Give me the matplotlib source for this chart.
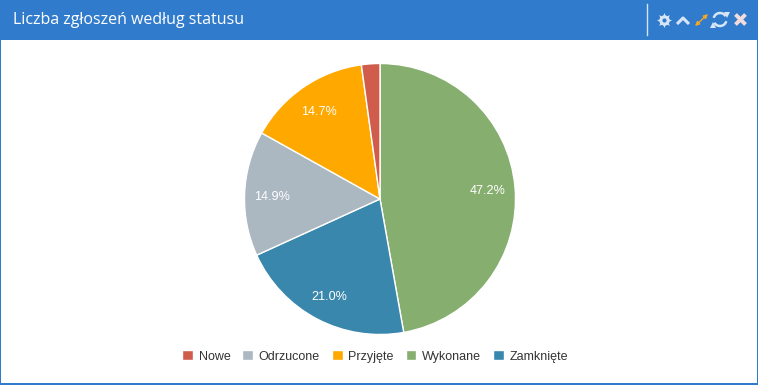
import matplotlib
matplotlib.use('Agg')
import matplotlib.pyplot as plt
from matplotlib.patches import Rectangle, Arc

W, H = 758, 385

title = 'Liczba zgłoszeń według statusu'
labels = ['Wykonane', 'Zamknięte', 'Odrzucone', 'Przyjęte', 'Nowe']
values = [47.2, 21.0, 14.9, 14.7, 2.2]
colors = ['#86ae6f', '#3a87ad', '#abb7c1', '#ffa800', '#d05c4c']
legend_order = ['Nowe', 'Odrzucone', 'Przyjęte', 'Wykonane', 'Zamknięte']
header_color = '#317bcc'
icon_color = '#d6e6f6'

plt.rcParams['font.family'] = ['Liberation Sans', 'DejaVu Sans']
fig = plt.figure(figsize=(W / 100, H / 100), dpi=100, facecolor='white')

# header bar and panel border, in pixel coordinates
bg = fig.add_axes([0, 0, 1, 1])
bg.set_xlim(0, W)
bg.set_ylim(H, 0)
bg.axis('off')
bg.add_patch(Rectangle((0, 0), W, 40, color=header_color, lw=0))
bg.add_patch(Rectangle((0, 40), 1, H - 40, color=header_color, lw=0))
bg.add_patch(Rectangle((W - 1, 40), 1, H - 40, color=header_color, lw=0))
bg.add_patch(Rectangle((0, H - 2), W, 2, color=header_color, lw=0))
bg.text(13, 20.5, title, color='white', fontsize=11.5, family='Open Sans', va='center', ha='left')
bg.plot([646.5, 646.5], [4, 35], color='#d5e4f5', lw=1)

# toolbar icons: gear
bg.plot(664, 20, marker=(8, 1, 0), ms=11, color=icon_color, mew=0)
bg.plot(664, 20, marker='o', ms=7.5, color=icon_color, mew=0)
bg.plot(664, 20, marker='o', ms=3, color=header_color, mew=0)
# collapse chevron
bg.plot([677, 683, 689], [24, 18, 24], color=icon_color, lw=2.2, solid_capstyle='butt')
# expand arrow
bg.annotate('', xy=(708, 14), xytext=(695, 26), arrowprops=dict(arrowstyle='<|-|>', color='#f5a623', lw=1, mutation_scale=6, shrinkA=0, shrinkB=0))
# refresh
bg.add_patch(Arc((720, 19.5), 13, 13, theta1=195, theta2=330, color=icon_color, lw=1.8))
bg.add_patch(Arc((720, 19.5), 13, 13, theta1=15, theta2=150, color=icon_color, lw=1.8))
bg.plot(727, 14.5, marker='v', ms=4.5, color=icon_color, mew=0)
bg.plot(713, 24.5, marker='^', ms=4.5, color=icon_color, mew=0)
# close
bg.plot([735.5, 745.5], [14.5, 24.5], color='#f3dcdc', lw=2.8, solid_capstyle='butt')
bg.plot([735.5, 745.5], [24.5, 14.5], color='#f3dcdc', lw=2.8, solid_capstyle='butt')

# pie
cx, cy, r = 380, 199, 135.5
ax = fig.add_axes([(cx - r) / W, 1 - (cy + r) / H, 2 * r / W, 2 * r / H])
wedges, _, autotexts = ax.pie(values, colors=colors, startangle=90, counterclock=False,
                              radius=1, autopct='%.1f%%', pctdistance=0.8,
                              wedgeprops=dict(edgecolor='white', linewidth=1),
                              textprops=dict(color='white', fontsize=9.1))
ax.set_xlim(-1, 1)
ax.set_ylim(-1, 1)
# the smallest slice has no label in the original
autotexts[-1].set_text('')
for t in autotexts:
    x, y = t.get_position()
    t.set_position((x, y - 2 / r))

handles = [wedges[labels.index(n)] for n in legend_order]
leg = fig.legend(handles, legend_order, ncol=5, loc='center', bbox_to_anchor=(375 / W, 1 - 356.5 / H),
                 frameon=False, fontsize=9, handlelength=0.85, handleheight=0.85,
                 handletextpad=0.45, columnspacing=0.97, labelcolor='#333333')
fig.savefig('out.png', dpi=100)
